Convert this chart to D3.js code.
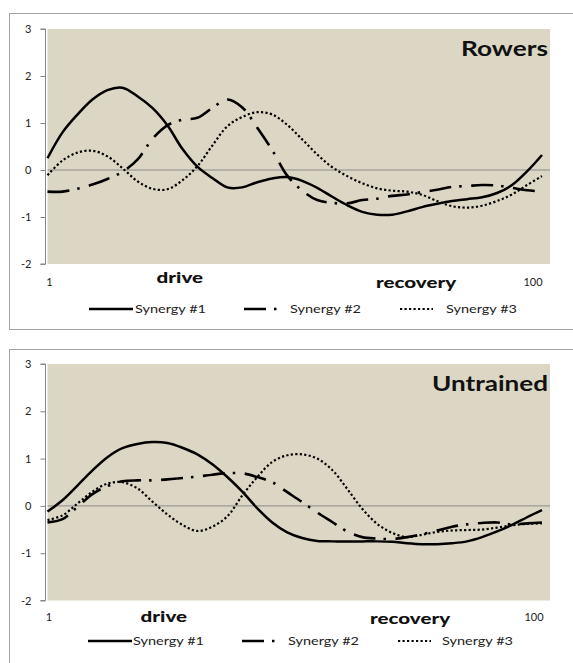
<!DOCTYPE html>
<html><head><meta charset="utf-8">
<script src="https://cdn.jsdelivr.net/npm/d3@7"></script>
<style>body{margin:0;background:#fff}svg{display:block}</style>
</head><body>
<svg id="c" width="573" height="663"></svg>
<script>
// ---- data ----
const frames = [1,4,7,10,13,16,19,22,25,28,31,34,37,40,43,46,49,52,55,58,61,64,67,70,73,76,79,82,85,88,91,94,97,100];
const rowersS1 = [0.25,0.80,1.18,1.50,1.70,1.75,1.57,1.32,0.95,0.45,0.07,-0.17,-0.37,-0.37,-0.26,-0.18,-0.15,-0.23,-0.38,-0.57,-0.75,-0.89,-0.95,-0.95,-0.88,-0.79,-0.72,-0.66,-0.62,-0.58,-0.49,-0.32,-0.03,0.32];
const rowersS2 = [-0.46,-0.46,-0.40,-0.31,-0.19,-0.04,0.22,0.66,0.95,1.07,1.11,1.32,1.50,1.33,0.90,0.42,-0.12,-0.44,-0.64,-0.70,-0.71,-0.64,-0.61,-0.55,-0.52,-0.47,-0.42,-0.36,-0.34,-0.32,-0.33,-0.38,-0.43,-0.46];
const rowersS3 = [-0.11,0.20,0.37,0.41,0.29,0.04,-0.24,-0.40,-0.41,-0.22,0.08,0.52,0.93,1.13,1.23,1.18,0.96,0.65,0.33,0.06,-0.13,-0.28,-0.39,-0.44,-0.46,-0.53,-0.66,-0.77,-0.80,-0.76,-0.66,-0.52,-0.32,-0.13];
const untrainedS1 = [-0.12,0.12,0.43,0.75,1.03,1.22,1.31,1.35,1.33,1.23,1.09,0.88,0.61,0.30,-0.05,-0.35,-0.56,-0.68,-0.74,-0.75,-0.75,-0.75,-0.75,-0.76,-0.79,-0.81,-0.81,-0.79,-0.75,-0.66,-0.54,-0.40,-0.24,-0.09];
const untrainedS2 = [-0.35,-0.28,-0.02,0.25,0.42,0.52,0.54,0.54,0.56,0.59,0.62,0.66,0.69,0.69,0.61,0.50,0.29,0.08,-0.14,-0.34,-0.54,-0.66,-0.69,-0.70,-0.66,-0.60,-0.52,-0.44,-0.39,-0.36,-0.35,-0.39,-0.37,-0.35];
const untrainedS3 = [-0.30,-0.20,0.05,0.30,0.47,0.50,0.37,0.09,-0.18,-0.40,-0.53,-0.44,-0.22,0.22,0.61,0.93,1.07,1.09,1.00,0.76,0.36,-0.06,-0.38,-0.57,-0.66,-0.61,-0.55,-0.52,-0.51,-0.50,-0.46,-0.41,-0.38,-0.37];
const seriesNames = ["Synergy #1","Synergy #2","Synergy #3"];
const yTicks = [-2,-1,0,1,2,3];
const xLabels = ["1","drive","recovery","100"];
const rowersLabelPos = [1.4,27.5,74.8,98.2];
const untrainedLabelPos = [1.3,24.3,73.6,98.4];
const panelTitles = ["Rowers","Untrained"];

// ---- drawing ----
const svg = d3.select("#c");
const FONT = "Lato, 'Open Sans', sans-serif";
const seriesStyle = [
  {dash:null, w:2.5},
  {dash:"22,8,2.5,9.5", w:2.6},
  {dash:"2.2,2.3", w:2.2}
];
const panels = [
  {title:panelTitles[0], frameY:13.5, frameH:316, top:29, bottom:264, legendY:309,
   data:[rowersS1,rowersS2,rowersS3], labelPos:rowersLabelPos, titleW:87,
   legend:[[89,133,135],[244,278,290],[400,433,446]], lblOff:[21.5,19,24]},
  {title:panelTitles[1], frameY:349.5, frameH:400, top:364, bottom:600.5, legendY:641,
   data:[untrainedS1,untrainedS2,untrainedS3], labelPos:untrainedLabelPos, titleW:116,
   legend:[[88,132,133],[242,277,288],[398,431,442]], lblOff:[20.5,21.5,23.5]}
];
const plotL = 47.5, plotR = 550;

panels.forEach(p => {
  const g = svg.append("g");
  g.append("rect").attr("x",9.5).attr("y",p.frameY).attr("width",620).attr("height",p.frameH)
    .attr("fill","#fff").attr("stroke","#a3a3a3").attr("stroke-width",1);
  g.append("rect").attr("x",plotL).attr("y",p.top).attr("width",plotR-plotL).attr("height",p.bottom-p.top)
    .attr("fill","#dcd7c5");

  const x = d3.scaleLinear().domain([1,100]).range([plotL, 542]);
  const y = d3.scaleLinear().domain([-2,3]).range([p.bottom, p.top]);

  // y axis
  const ya = g.append("g").attr("transform","translate(45.5,0)")
    .call(d3.axisLeft(y).tickValues(yTicks).tickSize(5).tickPadding(9).tickFormat(d3.format("d")));
  ya.select(".domain").attr("stroke","#868686").attr("d",`M-5,${y(3)}H0V${y(-2)}H-5`);
  ya.selectAll(".tick line").attr("stroke","#868686");
  ya.selectAll(".tick text").attr("font-family",FONT).attr("font-size",11).attr("fill","#222")
    .text(d => d < 0 ? "-" + Math.abs(d) : d);

  // zero line (category axis)
  g.append("line").attr("x1",plotL).attr("x2",plotR).attr("y1",y(0)).attr("y2",y(0))
    .attr("stroke","#8a8a8a").attr("stroke-width",1);

  // category labels
  xLabels.forEach((t,i) => {
    const bold = (i===1 || i===2);
    const txt = g.append("text").attr("x", x(p.labelPos[i])).attr("text-anchor","middle")
      .attr("font-family",FONT).text(t);
    if (bold) {
      const w = i===1 ? 46.5 : 80;
      txt.attr("y", p.bottom + p.lblOff[i]).attr("font-size",15).attr("font-weight","900")
        .attr("fill","#111").attr("textLength",w).attr("lengthAdjust","spacingAndGlyphs");
    } else {
      txt.attr("y", p.bottom + p.lblOff[0]).attr("font-size",11).attr("fill","#222");
    }
  });

  // lines
  const line = d3.line().x((d,i)=>x(frames[i])).y(d=>y(d)).curve(d3.curveCatmullRom.alpha(0.5));
  p.data.forEach((s,k) => {
    const st = seriesStyle[k];
    g.append("path").datum(s).attr("d",line).attr("fill","none").attr("stroke","#000")
      .attr("stroke-width",st.w).attr("stroke-dasharray",st.dash).attr("stroke-linejoin","round");
  });

  // title
  g.append("text").attr("x",548 - p.titleW).attr("y",p.top+27).attr("font-family",FONT)
    .attr("font-size",20).attr("font-weight","bold").attr("fill","#111")
    .attr("textLength",p.titleW).attr("lengthAdjust","spacingAndGlyphs").text(p.title);

  // legend
  p.legend.forEach((L,k) => {
    const st = seriesStyle[k];
    g.append("line").attr("x1",L[0]).attr("x2",L[1]).attr("y1",p.legendY).attr("y2",p.legendY)
      .attr("stroke","#000").attr("stroke-width",st.w).attr("stroke-dasharray",st.dash);
    g.append("text").attr("x",L[2]).attr("y",p.legendY+4).attr("font-family",FONT)
      .attr("font-size",12).attr("fill","#222").attr("textLength",71)
      .attr("lengthAdjust","spacingAndGlyphs").text(seriesNames[k]);
  });
});
</script>
</body></html>
